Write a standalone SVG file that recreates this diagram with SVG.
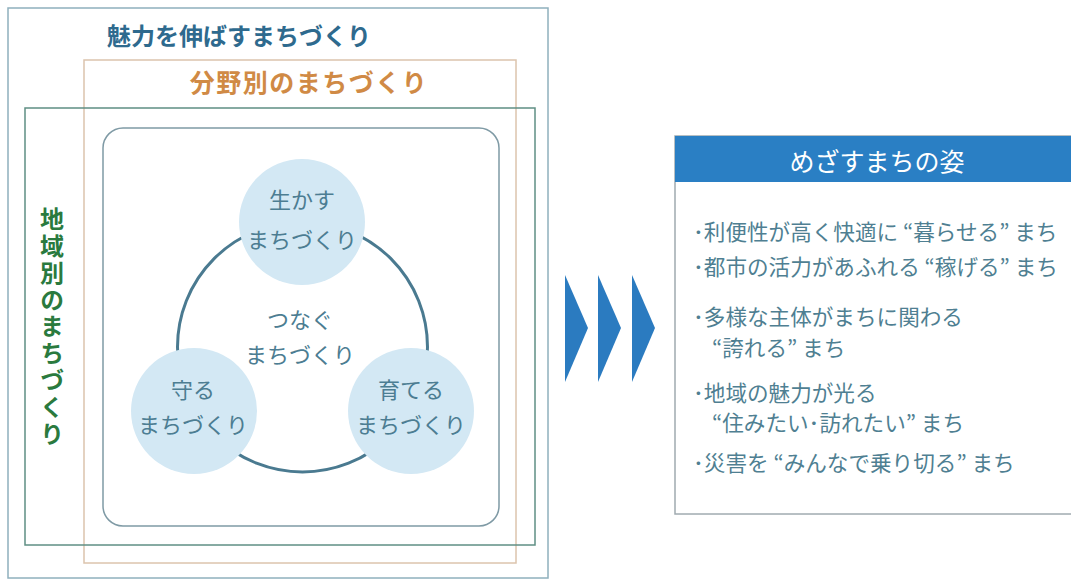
<svg xmlns="http://www.w3.org/2000/svg" width="1071" height="581" viewBox="0 0 1071 581">
<style>
.jp{font-family:"Noto Sans CJK JP","Noto Sans",sans-serif;}
.ct{font-size:22px;fill:#4c7d92;text-anchor:middle;}
.li{font-size:21.6px;fill:#4f7f92;}
.bubble{fill:#d3e8f4;}
</style>
<rect width="1071" height="581" fill="#ffffff"/>
<g id="frame-miryoku">
<rect x="8" y="8" width="540" height="570" fill="none" stroke="#8fb0bd" stroke-width="1.5"/>
<text class="jp" x="239" y="45" font-size="24" font-weight="bold" fill="#2e6a8e" text-anchor="middle">魅力を伸ばすまちづくり</text>
</g>
<g id="frame-bunya">
<rect x="84" y="60" width="432" height="503" fill="none" stroke="#dcc4ad" stroke-width="1.5"/>
<text class="jp" x="309" y="92" font-size="25" font-weight="bold" fill="#d08a45" text-anchor="middle" letter-spacing="1.5">分野別のまちづくり</text>
</g>
<g id="frame-chiiki">
<rect x="25" y="108" width="510" height="437" fill="none" stroke="#5f8f84" stroke-width="1.5"/>
<text class="jp" x="52" y="207" font-size="24" font-weight="bold" fill="#2a7a3e" writing-mode="vertical-rl" letter-spacing="2.8">地域別のまちづくり</text>
</g>
<g id="inner-box">
<rect x="103" y="128" width="396" height="398" rx="20" fill="#ffffff" stroke="#7f9aa5" stroke-width="1.5"/>
</g>
<g id="connectors">
<circle cx="302.5" cy="347" r="125" fill="none" stroke="#4a7a90" stroke-width="3"/>
</g>
<g id="node-ikasu">
<circle class="bubble" cx="302" cy="222" r="63"/>
<text class="jp ct" x="302" y="208">生かす</text>
<text class="jp ct" x="302" y="248">まちづくり</text>
</g>
<g id="node-tsunagu">
<text class="jp ct" x="300" y="328">つなぐ</text>
<text class="jp ct" x="300" y="363">まちづくり</text>
</g>
<g id="node-mamoru">
<circle class="bubble" cx="194" cy="411" r="63"/>
<text class="jp ct" x="193" y="398">守る</text>
<text class="jp ct" x="193" y="433">まちづくり</text>
</g>
<g id="node-sodateru">
<circle class="bubble" cx="411" cy="411" r="63"/>
<text class="jp ct" x="411" y="398">育てる</text>
<text class="jp ct" x="411" y="433">まちづくり</text>
</g>
<g id="chevrons" fill="#2b7bc0">
<polygon points="565,275 588,328 565,382"/>
<polygon points="598,275 621,328 598,382"/>
<polygon points="632,275 655,328 632,382"/>
</g>
<g id="node-mezasu">
<rect x="675" y="136" width="420" height="378" fill="#ffffff" stroke="#a0abb0" stroke-width="1.5"/>
<rect x="675" y="136" width="420" height="46" fill="#2a7fc4"/>
<text class="jp" x="877" y="171" font-size="25" fill="#ffffff" text-anchor="middle">めざすまちの姿</text>
<text class="jp li" x="693" y="240">･利便性が高く快適に “暮らせる” まち</text>
<text class="jp li" x="693" y="275">･都市の活力があふれる “稼げる” まち</text>
<text class="jp li" x="693" y="325">･多様な主体がまちに関わる</text>
<text class="jp li" x="712" y="356">“誇れる” まち</text>
<text class="jp li" x="693" y="401">･地域の魅力が光る</text>
<text class="jp li" x="712" y="431">“住みたい･訪れたい” まち</text>
<text class="jp li" x="693" y="471">･災害を “みんなで乗り切る” まち</text>
</g>
</svg>
